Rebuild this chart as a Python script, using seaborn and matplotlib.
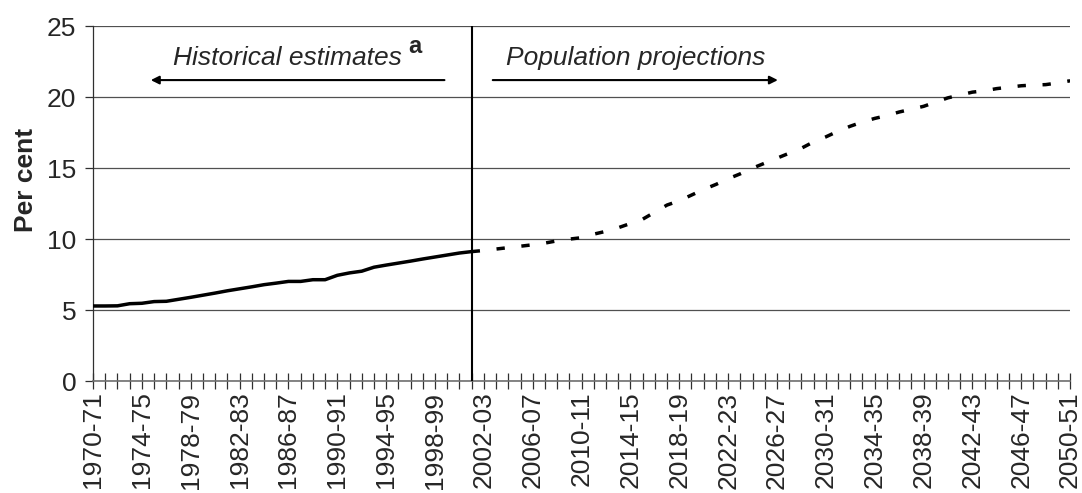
import pandas as pd
import matplotlib
matplotlib.use('Agg')
import matplotlib.pyplot as plt
import seaborn as sns

# Financial years on the category axis
years = [f"{y}-{str(y + 1)[-2:]}" for y in range(1970, 2051)]

# Historical estimates, 1970-71 .. 2001-02 (per cent)
historical = [5.29, 5.29, 5.30, 5.45, 5.48, 5.60, 5.62, 5.76, 5.90, 6.05,
              6.20, 6.36, 6.50, 6.64, 6.79, 6.90, 7.02, 7.02, 7.14, 7.14,
              7.45, 7.62, 7.74, 8.02, 8.17, 8.31, 8.45, 8.60, 8.74, 8.88,
              9.02, 9.12]

# Population projections, 2001-02 .. 2050-51 (per cent)
projection = [9.12, 9.20, 9.30, 9.40, 9.50, 9.60, 9.72, 9.88, 10.00, 10.10,
              10.35, 10.55, 10.80, 11.10, 11.40, 11.90, 12.40, 12.70, 13.10, 13.50,
              13.85, 14.25, 14.60, 15.00, 15.35, 15.70, 16.05, 16.40, 16.85, 17.20,
              17.60, 17.95, 18.25, 18.50, 18.70, 18.95, 19.15, 19.35, 19.65, 19.95,
              20.15, 20.35, 20.45, 20.60, 20.70, 20.80, 20.85, 20.88, 21.00, 21.15]

y_ticks = [0, 5, 10, 15, 20, 25]

hist_pos = list(range(len(historical)))
proj_pos = list(range(len(historical) - 1, len(historical) - 1 + len(projection)))
split = len(historical) - 1

df = pd.DataFrame({
    'pos': hist_pos + proj_pos,
    'value': historical + projection,
    'series': ['Historical'] * len(historical) + ['Projection'] * len(projection),
})

sns.set_style('white')
plt.rcParams['font.family'] = ['Liberation Sans', 'DejaVu Sans']

fig, ax = plt.subplots(figsize=(10.82, 4.93), dpi=100)
fig.subplots_adjust(left=0.086, right=0.989, top=0.947, bottom=0.227)

sns.lineplot(data=df, x='pos', y='value', style='series',
             dashes={'Historical': '', 'Projection': (2.4, 4.8)},
             color='black', linewidth=2.5, legend=False, ax=ax, zorder=3)

ax.axvline(split, color='black', lw=1.5, zorder=4)

ax.set_xlim(0, len(years) - 1)
ax.set_ylim(0, 25)
ax.set_yticks(y_ticks)
ax.yaxis.grid(True, color='#505050', lw=0.9)
ax.set_axisbelow(True)

ax.set_xticks(range(len(years)))
ax.set_xticklabels([lab if i % 4 == 0 else '' for i, lab in enumerate(years)],
                   rotation=90)
ax.tick_params(axis='x', bottom=True, direction='inout', length=11, width=0.9,
               color='#303030', labelsize=19, pad=2)
ax.tick_params(axis='y', left=True, direction='out', length=6, width=0.9,
               color='#303030', labelsize=19, pad=6)

for s in ['top', 'right']:
    ax.spines[s].set_visible(False)
ax.spines['left'].set_color('#303030')
ax.spines['bottom'].set_color('#707070')
ax.spines['left'].set_linewidth(0.9)
ax.spines['bottom'].set_linewidth(1.2)

ax.set_xlabel('')
ax.set_ylabel('Per cent', fontweight='bold', fontsize=19)
ax.yaxis.set_label_coords(-0.056, 0.566)

# period annotations
arrow = dict(arrowstyle='-|>', color='black', lw=1.5, mutation_scale=12)
ax.annotate('', xy=(4.5, 21.2), xytext=(29, 21.2), arrowprops=arrow)
ax.annotate('', xy=(56.3, 21.2), xytext=(32.5, 21.2), arrowprops=arrow)
ax.text(15.9, 22.25, 'Historical estimates', style='italic', fontsize=19,
        ha='center', va='baseline')
ax.text(25.8, 23.1, 'a', fontweight='bold', fontsize=17, ha='left', va='baseline')
ax.text(44.45, 22.25, 'Population projections', style='italic', fontsize=19,
        ha='center', va='baseline')

fig.savefig('out.png', dpi=100)
plt.close(fig)
